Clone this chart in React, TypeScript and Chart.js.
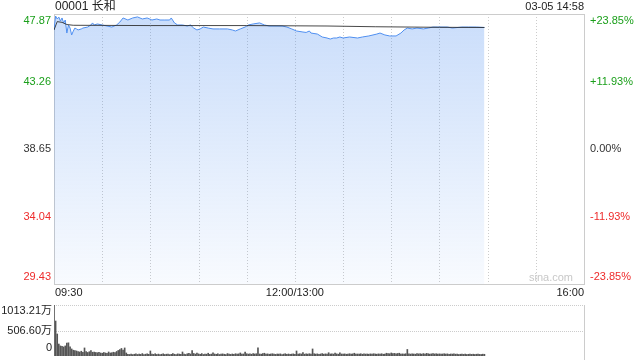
import React, { useEffect, useRef } from "react";
import { Chart, registerables } from "chart.js";
Chart.register(...registerables);

const title = "00001 长和";
const stamp = "03-05 14:58";
const watermark = "sina.com";
const prevClose = 38.65;
const priceTicks = [47.87, 43.26, 38.65, 34.04, 29.43];
const pctTicks = ["+23.85%", "+11.93%", "0.00%", "-11.93%", "-23.85%"];
const timeLabels = ["09:30", "12:00/13:00", "16:00"];
const timeLabelMinutes = [0, 150, 330];
const gridMinutes = [30, 60, 90, 120, 150, 180, 210, 240, 270, 300];
const volMax = 1013.21;
const volTicks = [1013.21, 506.6, 0];
const volTickLabels = ["1013.21万", "506.60万", "0"];

const priceMinutes = [
  0, 1, 2, 3, 4, 5, 6, 7, 8, 9, 10, 11, 12, 13, 14, 15, 17, 18, 21, 22, 23, 24, 25, 27, 30, 33, 36, 39, 41, 43,
  46, 49, 52, 55, 58, 61, 64, 66, 69, 72, 73, 75, 77, 80, 83, 85, 87, 89, 91, 93, 96, 99, 103, 108, 111, 113,
  116, 119, 121, 124, 128, 131, 134, 142, 145, 148, 151, 155, 157, 159, 160, 164, 167, 170, 172, 174, 176, 178,
  180, 184, 189, 192, 196, 201, 203, 206, 209, 213, 216, 218, 220, 223, 226, 230, 233, 236, 239, 245, 248, 254,
  258, 263, 268,
];
const prices = [
  46.78, 47.73, 47.53, 47.66, 47.39, 47.6, 47.26, 47.46, 46.57, 47.12, 46.91, 46.44, 46.7, 46.91, 46.85, 46.78,
  46.85, 46.91, 46.98, 47.05, 47.12, 47.26, 47.12, 47.19, 47.12, 47.05, 46.98, 47.12, 47.32, 47.6,
  47.46, 47.6, 47.67, 47.53, 47.6, 47.46, 47.53, 47.46, 47.46, 47.46, 47.6, 47.26, 47.12, 47.12, 47.05, 47.12,
  46.91, 46.78, 46.85, 46.98, 46.91, 46.85, 46.85, 46.85, 46.78, 46.71,
  46.85, 46.98, 47.12, 47.19, 47.26, 47.12, 47.05, 47.05, 46.98, 46.85, 46.71, 46.64, 46.61, 46.71, 46.57, 46.5,
  46.3, 46.23, 46.16, 46.23, 46.23, 46.3,
  46.23, 46.3, 46.23, 46.3, 46.37, 46.5, 46.57, 46.44, 46.37, 46.37, 46.57, 46.78, 46.91, 46.85, 46.91, 46.85,
  46.91, 46.98, 46.98, 46.98, 46.91, 46.98,
  46.98, 46.98, 46.95,
];
const avgMinutes = [0, 2, 5, 8, 12, 60, 120, 170, 200, 240, 268];
const avgPrices = [46.78, 47.35, 47.3, 47.15, 47.1, 47.08, 47.08, 47.05, 47.0, 46.96, 46.95];

const volumes = [
  1013.21, 695, 437, 238, 200, 190, 180, 200, 258, 262, 180, 140, 115, 110, 100, 90, 80, 95, 75, 160,
  90, 70, 85, 110, 75, 80, 70, 65, 75, 60, 55, 70, 60, 55, 80, 60, 65, 75, 70, 90,
  110, 130, 150, 120, 160, 60, 35, 30, 40, 28, 35, 45, 30, 38, 32, 48, 30, 36, 42, 34,
  100, 40, 32, 45, 30, 38, 28, 35, 44, 30, 36, 40, 28, 33, 50, 35, 30, 42, 38, 31,
  80, 36, 30, 45, 55, 40, 110, 50, 38, 60, 42, 35, 48, 30, 40, 36, 55, 32, 38, 65,
  40, 34, 45, 30, 38, 42, 35, 30, 48, 36, 32, 40, 35, 45, 38, 42, 60, 36, 40, 80,
  45, 38, 42, 35, 50, 40, 45, 160, 40, 36, 48, 55, 38, 42, 35, 40, 45, 38, 32, 40,
  36, 42, 30, 38, 45, 35, 40, 32, 38, 42, 35, 100, 38, 45, 40, 70, 36, 42, 38, 45,
  40, 140, 45, 38, 42, 35, 40, 48, 36, 42, 38, 65, 40, 45, 38, 60, 42, 36, 62, 40,
  38, 42, 35, 40, 45, 38, 42, 55, 36, 40, 38, 45, 35, 42, 38, 40, 36, 42, 38, 45,
  40, 36, 42, 38, 45, 35, 40, 55, 50, 45, 60, 48, 52, 45, 50, 55, 40, 42, 38, 45,
  130, 42, 38, 45, 40, 36, 50, 42, 45, 38, 48, 40, 52, 45, 38, 42, 50, 40, 45, 38,
  42, 36, 40, 45, 38, 42, 35, 40, 38, 42, 36, 40, 30, 35, 38, 32, 36, 30, 34, 38,
  32, 36, 30, 35, 38, 32, 30, 36, 34,
];

const FONT = '"Liberation Sans", Arial, "Noto Sans CJK SC", sans-serif';
const GREEN = "#1a9f1a";
const RED = "#ee2b2b";
const DARK = "#333333";
const GRID = "#cccccc";

const colorFor = (v: number) => (v > prevClose + 1e-9 ? GREEN : v < prevClose - 1e-9 ? RED : DARK);

const pricePlugin = {
  id: "priceDecor",
  beforeDatasetsDraw(chart: any) {
    const { ctx, chartArea: a, scales } = chart;
    const x = scales.x;
    ctx.save();
    ctx.strokeStyle = GRID;
    ctx.lineWidth = 1;
    ctx.setLineDash([1, 2]);
    gridMinutes.forEach((m) => {
      const px = Math.round(x.getPixelForValue(m)) + 0.5;
      ctx.beginPath();
      ctx.moveTo(px, a.top);
      ctx.lineTo(px, a.bottom);
      ctx.stroke();
    });
    ctx.setLineDash([]);
    ctx.strokeRect(a.left + 0.5, a.top + 0.5, a.right - a.left, a.bottom - a.top);
    ctx.restore();
  },
  afterDraw(chart: any) {
    const { ctx, chartArea: a, scales } = chart;
    const x = scales.x;
    const y = scales.y;
    ctx.save();
    ctx.textBaseline = "middle";
    ctx.font = "12px " + FONT;
    ctx.fillStyle = "#222";
    ctx.textAlign = "left";
    ctx.fillText(title, a.left + 1, 7);
    ctx.font = "11px " + FONT;
    ctx.textAlign = "right";
    ctx.fillText(stamp, a.right, 7);
    priceTicks.forEach((v, i) => {
      let py = y.getPixelForValue(v);
      if (i === 0) py += 7;
      if (i === priceTicks.length - 1) py -= 7;
      ctx.fillStyle = colorFor(v);
      ctx.textAlign = "right";
      ctx.fillText(v.toFixed(2), a.left - 3, py);
      ctx.textAlign = "left";
      ctx.fillText(pctTicks[i], a.right + 6, py);
    });
    ctx.fillStyle = "#222";
    timeLabels.forEach((t, i) => {
      const px = x.getPixelForValue(timeLabelMinutes[i]);
      ctx.textAlign = i === 0 ? "left" : i === timeLabels.length - 1 ? "right" : "center";
      ctx.fillText(t, i === 0 ? px + 1 : px, a.bottom + 9);
    });
    ctx.fillStyle = "#c8c8c8";
    ctx.textAlign = "right";
    ctx.fillText(watermark, a.right - 11, a.bottom - 6);
    ctx.restore();
  },
};

const volPlugin = {
  id: "volDecor",
  beforeDatasetsDraw(chart: any) {
    const { ctx, chartArea: a, scales } = chart;
    const y = scales.y;
    ctx.save();
    ctx.strokeStyle = GRID;
    ctx.lineWidth = 1;
    ctx.setLineDash([1, 1]);
    [volTicks[0], volTicks[1]].forEach((v) => {
      const py = Math.round(y.getPixelForValue(v)) + 0.5;
      ctx.beginPath();
      ctx.moveTo(a.left, py);
      ctx.lineTo(a.right, py);
      ctx.stroke();
    });
    ctx.setLineDash([]);
    ctx.beginPath();
    ctx.moveTo(a.right + 0.5, a.top);
    ctx.lineTo(a.right + 0.5, 360);
    ctx.stroke();
    ctx.restore();
  },
  afterDraw(chart: any) {
    const { ctx, chartArea: a, scales } = chart;
    const y = scales.y;
    ctx.save();
    ctx.textBaseline = "middle";
    ctx.font = "11px " + FONT;
    ctx.fillStyle = "#222";
    ctx.textAlign = "right";
    volTicks.forEach((v, i) => {
      let py = y.getPixelForValue(v);
      if (i === 0) py += 6;
      if (i === volTicks.length - 1) py -= 8;
      ctx.fillText(volTickLabels[i], a.left - 2, py);
    });
    ctx.restore();
  },
};

export default function App() {
  const priceRef = useRef<HTMLCanvasElement>(null);
  const volRef = useRef<HTMLCanvasElement>(null);

  useEffect(() => {
    const priceChart = new Chart(priceRef.current as HTMLCanvasElement, {
      type: "line",
      data: {
        datasets: [
          {
            data: priceMinutes.map((m, i) => ({ x: m, y: prices[i] })),
            borderColor: "#4f8ff0",
            borderWidth: 1,
            pointRadius: 0,
            tension: 0,
            fill: "start",
            backgroundColor: (c: any) => {
              const { ctx, chartArea } = c.chart;
              if (!chartArea) return "rgba(79,143,240,0.2)";
              const g = ctx.createLinearGradient(0, chartArea.top, 0, chartArea.bottom);
              g.addColorStop(0, "rgba(79,143,240,0.30)");
              g.addColorStop(1, "rgba(79,143,240,0.04)");
              return g;
            },
            order: 2,
          },
          {
            data: avgMinutes.map((m, i) => ({ x: m, y: avgPrices[i] })),
            borderColor: "rgba(40,40,40,0.85)",
            borderWidth: 1,
            pointRadius: 0,
            tension: 0,
            fill: false,
            order: 1,
          },
        ],
      },
      options: {
        animation: false,
        responsive: false,
        maintainAspectRatio: false,
        layout: { padding: { left: 54, right: 56, top: 14, bottom: 76 } },
        plugins: { legend: { display: false }, tooltip: { enabled: false } },
        scales: {
          x: { type: "linear", min: 0, max: 330, display: false },
          y: { type: "linear", min: priceTicks[4], max: priceTicks[0], display: false },
        },
      },
      plugins: [pricePlugin],
    });

    const volChart = new Chart(volRef.current as HTMLCanvasElement, {
      type: "bar",
      data: {
        datasets: [
          {
            data: volumes.map((v, i) => ({ x: i, y: v })),
            backgroundColor: "#555555",
            barThickness: 1,
          },
        ],
      },
      options: {
        animation: false,
        responsive: false,
        maintainAspectRatio: false,
        layout: { padding: { left: 54, right: 56, top: 305, bottom: 4 } },
        plugins: { legend: { display: false }, tooltip: { enabled: false } },
        scales: {
          x: { type: "linear", min: 0, max: 330, offset: false, display: false },
          y: { type: "linear", min: 0, max: volMax, display: false },
        },
      },
      plugins: [volPlugin],
    });

    return () => {
      priceChart.destroy();
      volChart.destroy();
    };
  }, []);

  const cs: React.CSSProperties = { position: "absolute", left: 0, top: 0, width: 640, height: 360 };
  return (
    <div style={{ position: "fixed", left: 0, top: 0, width: 640, height: 360, background: "#fff" }}>
      <canvas ref={priceRef} width={640} height={360} style={cs} />
      <canvas ref={volRef} width={640} height={360} style={cs} />
    </div>
  );
}
